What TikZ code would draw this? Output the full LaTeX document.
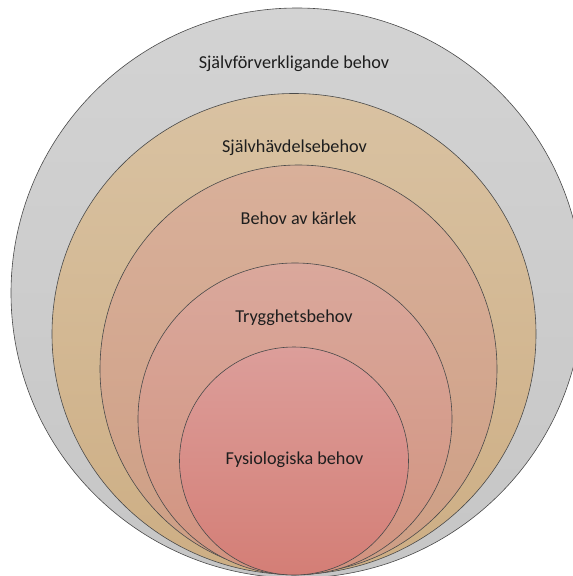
\documentclass[tikz,border=0pt]{standalone}
\usepackage{fontspec}
\setmainfont{Carlito}
\definecolor{grayT}{HTML}{D3D3D3}
\definecolor{grayB}{HTML}{C6C6C6}
\definecolor{tanT}{HTML}{D9C2A2}
\definecolor{tanB}{HTML}{CDAE84}
\definecolor{lovT}{HTML}{D9B09A}
\definecolor{lovB}{HTML}{CD9E84}
\definecolor{safT}{HTML}{DAA89C}
\definecolor{safB}{HTML}{D1937F}
\definecolor{phyT}{HTML}{DC9E9A}
\definecolor{phyB}{HTML}{D47E76}
\definecolor{edge}{HTML}{4A4A4A}
\definecolor{txt}{HTML}{1E1E1E}
\tikzset{
  ring/.style={draw=edge, line width=0.6pt},
  lbl/.style={text=txt, font=\fontsize{18.2}{21}\selectfont, inner sep=0pt, anchor=center}
}
\begin{document}
\begin{tikzpicture}[x=1pt,y=-1pt]
\useasboundingbox (0,0) rectangle (573,576);
\clip (0,0) rectangle (573,576);
\fill[white] (0,0) rectangle (573,576);
\path[ring, top color=grayT, bottom color=grayB] (297,293) circle [x radius=286, y radius=285];
\path[ring, top color=tanT, bottom color=tanB] (294,334) circle [x radius=242, y radius=240.5];
\path[ring, top color=lovT, bottom color=lovB] (298.5,369) circle [x radius=198.5, y radius=204];
\path[ring, top color=safT, bottom color=safB] (295,419) circle [x radius=157, y radius=156];
\path[ring, top color=phyT, bottom color=phyB] (294,461) circle [x radius=114.5, y radius=114];
\node[lbl] (n1) at (294,64) {Självförverkligande behov};
\node[lbl] (n2) at (294.5,148) {Självhävdelsebehov};
\node[lbl] (n3) at (298.5,218.5) {Behov av kärlek};
\node[lbl] (n4) at (294,318) {Trygghetsbehov};
\node[lbl] (n5) at (294.5,459.5) {Fysiologiska behov};
\end{tikzpicture}
\end{document}
